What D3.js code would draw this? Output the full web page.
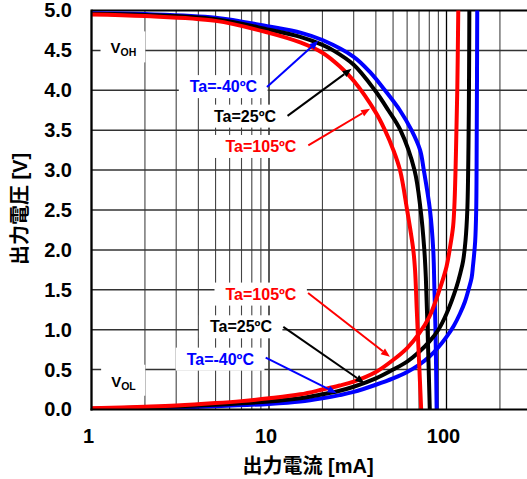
<!DOCTYPE html>
<html>
<head>
<meta charset="utf-8">
<script src="https://cdn.jsdelivr.net/npm/d3@7"></script>
<style>
  body { margin: 0; background: #fff; }
  svg { display: block; }
  text { font-family: "Liberation Sans", Arial, "Noto Sans CJK JP", sans-serif; font-weight: bold; }
</style>
</head>
<body>
<svg id="chart" width="527" height="479"></svg>
<script>
// Axis ticks
const currentDecades = [1, 10, 100];
const currentMinor = [2, 3, 4, 5, 6, 7, 8, 9, 20, 30, 40, 50, 60, 70, 80, 90, 200, 300];
const voltageTicks = [0, 0.5, 1.0, 1.5, 2.0, 2.5, 3.0, 3.5, 4.0, 4.5, 5.0];

// High-level output voltage (VOH) vs. output current [mA]
const vohCurrentM40 = [1, 2, 5, 10, 15.2, 20, 30, 37, 45, 54.6, 63.5, 71, 74.5, 80.7, 84.2, 85.5, 86.7, 88];
const vohVoltageM40 = [4.965, 4.955, 4.91, 4.8, 4.72, 4.63, 4.42, 4.23, 4.0, 3.75, 3.5, 3.25, 3.0, 2.5, 2.0, 1.5, 1.0, 0.0];

const vohCurrent25 = [1, 2, 5, 10, 15, 20, 23, 30, 39.5, 47, 55, 66, 71.5, 75, 76.5, 78, 80.5];
const vohVoltage25 = [4.96, 4.945, 4.89, 4.76, 4.67, 4.57, 4.5, 4.32, 4.0, 3.75, 3.5, 3.0, 2.5, 2.0, 1.65, 1.1, 0.0];

const vohCurrent105 = [1, 2, 5, 10, 15, 20, 25, 30, 40, 45, 50, 54.7, 60, 65, 66.5, 68, 70, 72];
const vohVoltage105 = [4.95, 4.93, 4.87, 4.72, 4.6, 4.47, 4.3, 4.12, 3.72, 3.5, 3.26, 3.0, 2.5, 2.0, 1.75, 1.25, 0.62, 0.0];

// Low-level output voltage (VOL) vs. output current [mA]
const volCurrentM40 = [1, 2, 5, 10, 15, 20, 25, 30, 40, 50, 60, 70, 80, 90, 100, 110, 119, 127, 133, 138.5, 141, 145, 147, 148, 149];
const volVoltageM40 = [0.005, 0.015, 0.04, 0.07, 0.1, 0.14, 0.18, 0.22, 0.31, 0.39, 0.47, 0.56, 0.66, 0.78, 0.91, 1.05, 1.2, 1.35, 1.5, 1.65, 1.8, 2.1, 2.5, 3.4, 5.0];

const volCurrent25 = [1, 2, 5, 10, 15, 20, 25, 30, 40, 50, 60, 70, 80, 90, 100, 114, 120, 124, 128, 131, 133, 134, 134.5];
const volVoltage25 = [0.01, 0.025, 0.06, 0.1, 0.14, 0.19, 0.235, 0.285, 0.39, 0.5, 0.6, 0.72, 0.85, 1.0, 1.2, 1.54, 1.72, 1.86, 2.12, 2.5, 3.3, 4.2, 5.0];

const volCurrent105 = [1, 2, 3, 5, 7, 10, 15, 20, 25, 30, 40, 50, 60, 70, 80, 90, 100, 105, 109, 111, 113, 115, 116.5];
const volVoltage105 = [0.015, 0.035, 0.05, 0.08, 0.105, 0.14, 0.19, 0.25, 0.3, 0.35, 0.47, 0.62, 0.77, 0.95, 1.16, 1.46, 1.79, 2.05, 2.3, 2.6, 3.2, 4.0, 5.0];

const series = [
  { color: "#0000ff", current: volCurrentM40, voltage: volVoltageM40 },
  { color: "#0000ff", current: vohCurrentM40, voltage: vohVoltageM40 },
  { color: "#000000", current: volCurrent25, voltage: volVoltage25 },
  { color: "#000000", current: vohCurrent25, voltage: vohVoltage25 },
  { color: "#ff0000", current: volCurrent105, voltage: volVoltage105 },
  { color: "#ff0000", current: vohCurrent105, voltage: vohVoltage105 }
];

// Temperature callouts: label centre and arrow tip, in data units (mA, V)
const callouts = [
  { text: "Ta=-40ºC", color: "#0000ff", label: [5.54, 4.05], from: [9.74, 4.04], to: [18.96, 4.62] },
  { text: "Ta=25ºC", color: "#000000", label: [7.33, 3.68], from: [12.72, 3.68], to: [29.2, 4.27] },
  { text: "Ta=105ºC", color: "#ff0000", label: [9.01, 3.30], from: [16.65, 3.31], to: [37.1, 3.77] },
  { text: "Ta=105ºC", color: "#ff0000", label: [9.01, 1.45], from: [16.6, 1.46], to: [48.0, 0.66] },
  { text: "Ta=25ºC", color: "#000000", label: [6.95, 1.04], from: [12.04, 1.035], to: [34.5, 0.33] },
  { text: "Ta=-40ºC", color: "#0000ff", label: [5.32, 0.635], from: [9.58, 0.65], to: [24.06, 0.205] }
];
const levelLabels = [
  { main: "V", sub: "OH", at: [1.28, 4.5] },
  { main: "V", sub: "OL", at: [1.29, 0.323] }
];

const svg = d3.select("#chart");
const plotLeft = 91.5, plotTop = 10.5, plotBottom = 409.5, plotRight = 527, decadeWidth = 177.5;
const x = d3.scaleLog().domain([1, 300]).range([plotLeft, plotLeft + decadeWidth * Math.log10(300)]);
const y = d3.scaleLinear().domain([0, 5]).range([plotBottom, plotTop]);

// Grid
const grid = svg.append("g");
grid.selectAll(".vminor").data(currentMinor).join("line")
  .attr("x1", d => x(d)).attr("x2", d => x(d))
  .attr("y1", plotTop).attr("y2", plotBottom)
  .attr("stroke", "#444").attr("stroke-width", 1.1);
grid.selectAll(".vmajor").data(currentDecades).join("line")
  .attr("x1", d => x(d)).attr("x2", d => x(d))
  .attr("y1", plotTop).attr("y2", plotBottom)
  .attr("stroke", "#000").attr("stroke-width", 1.3);
grid.selectAll(".h").data(voltageTicks.filter(v => v > 0)).join("line")
  .attr("x1", plotLeft).attr("x2", plotRight)
  .attr("y1", d => y(d)).attr("y2", d => y(d))
  .attr("stroke", d => d === 5 ? "#000" : "#333").attr("stroke-width", d => d === 5 ? 1.8 : 1.5);

// Level labels (VOH / VOL) with white backing
const levels = svg.append("g");
levelLabels.forEach(l => {
  const t = levels.append("text")
    .attr("x", x(l.at[0])).attr("y", y(l.at[1]) + 3)
    .attr("font-size", 15).attr("fill", "#000");
  t.append("tspan").text(l.main);
  t.append("tspan").attr("font-size", 10.5).attr("dy", 3).text(l.sub);
  const b = t.node().getBBox();
  levels.insert("rect", "text")
    .attr("x", b.x - 10).attr("y", b.y - 8)
    .attr("width", b.width + 19).attr("height", b.height + 12)
    .attr("fill", "#fff");
});

// Callout labels with white backing
const notes = svg.append("g");
callouts.forEach(c => {
  const t = notes.append("text")
    .attr("x", x(c.label[0])).attr("y", y(c.label[1]) + 5.8)
    .attr("text-anchor", "middle")
    .attr("font-size", 16).attr("fill", c.color)
    .text(c.text);
  const b = t.node().getBBox();
  notes.insert("rect", "text")
    .attr("x", b.x - 11).attr("y", b.y - 3)
    .attr("width", b.width + 21).attr("height", b.height + 6)
    .attr("fill", "#fff");
});

// Curves
svg.append("defs").append("clipPath").attr("id", "plot")
  .append("rect").attr("x", plotLeft).attr("y", plotTop - 2)
  .attr("width", plotRight - plotLeft).attr("height", plotBottom - plotTop + 2);
const line = d3.line()
  .x(d => x(d[0])).y(d => y(d[1]))
  .curve(d3.curveCatmullRom.alpha(0.5));
svg.append("g").attr("clip-path", "url(#plot)")
  .selectAll("path").data(series).join("path")
  .attr("d", s => line(s.current.map((c, i) => [c, s.voltage[i]])))
  .attr("fill", "none").attr("stroke", d => d.color)
  .attr("stroke-width", 4).attr("stroke-linejoin", "round");

// Callout arrows
const arrows = svg.append("g");
callouts.forEach(c => {
  const x0 = x(c.from[0]), y0 = y(c.from[1]), x1 = x(c.to[0]), y1 = y(c.to[1]);
  const ang = Math.atan2(y1 - y0, x1 - x0);
  const len = 9, hw = 3.6;
  const bx = x1 - len * Math.cos(ang), by = y1 - len * Math.sin(ang);
  arrows.append("line")
    .attr("x1", x0).attr("y1", y0).attr("x2", bx).attr("y2", by)
    .attr("stroke", c.color).attr("stroke-width", 2);
  arrows.append("path")
    .attr("d", `M${x1},${y1}L${bx - hw * Math.sin(ang)},${by + hw * Math.cos(ang)}L${bx + hw * Math.sin(ang)},${by - hw * Math.cos(ang)}Z`)
    .attr("fill", c.color);
});

// Axes
const yAxis = svg.append("g").attr("transform", `translate(${plotLeft},0)`)
  .call(d3.axisLeft(y).tickValues(voltageTicks).tickFormat(d3.format(".1f")).tickSize(0).tickPadding(19.5));
yAxis.select(".domain").remove();
yAxis.selectAll("text").attr("font-size", 20).attr("fill", "#000")
  .style("font-family", "'Liberation Sans', Arial, sans-serif").style("font-weight", "bold");

const xAxis = svg.append("g").attr("transform", `translate(0,${plotBottom})`)
  .call(d3.axisBottom(x).tickValues(currentDecades).tickFormat(d3.format("d")).tickSize(0).tickPadding(19.3));
xAxis.select(".domain").remove();
xAxis.selectAll("text").attr("font-size", 20).attr("fill", "#000").attr("dx", -3.5)
  .style("font-family", "'Liberation Sans', Arial, sans-serif").style("font-weight", "bold");

svg.append("line").attr("x1", plotLeft).attr("x2", plotLeft).attr("y1", plotTop - 1).attr("y2", plotBottom + 1)
  .attr("stroke", "#000").attr("stroke-width", 2.2);
svg.append("line").attr("x1", plotLeft - 1).attr("x2", plotRight).attr("y1", plotBottom).attr("y2", plotBottom)
  .attr("stroke", "#000").attr("stroke-width", 2.2);

// Axis titles
svg.append("text")
  .attr("transform", `translate(27,209) rotate(-90)`)
  .attr("text-anchor", "middle").attr("font-size", 20).attr("fill", "#000")
  .text("出力電圧 [V]");
svg.append("text")
  .attr("x", 308).attr("y", 473)
  .attr("text-anchor", "middle").attr("font-size", 20).attr("fill", "#000")
  .text("出力電流 [mA]");
</script>
</body>
</html>
